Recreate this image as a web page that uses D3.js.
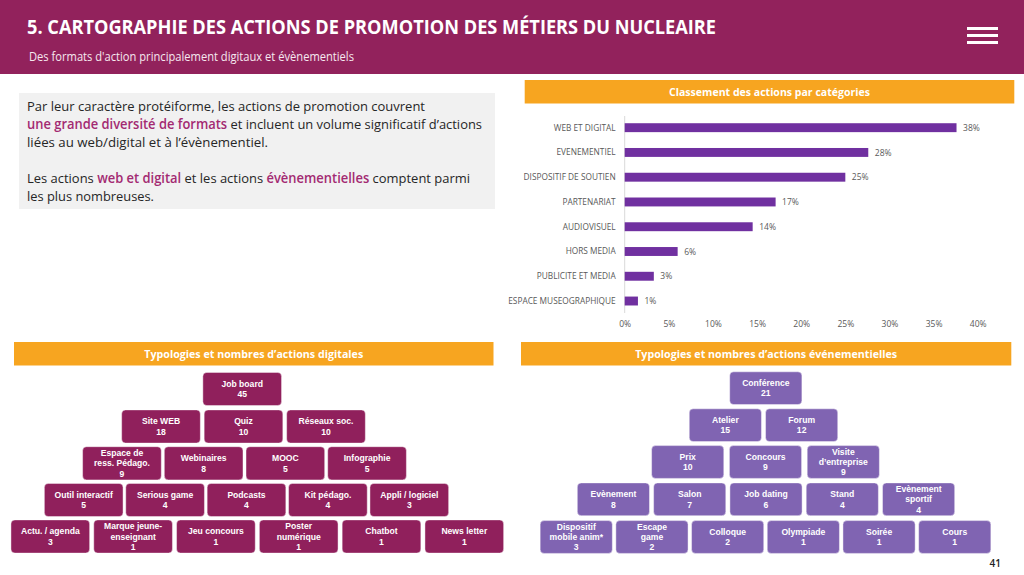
<!DOCTYPE html>
<html lang="fr"><head><meta charset="utf-8">
<script src="https://cdn.jsdelivr.net/npm/d3@7"></script>
<style>html,body{margin:0;padding:0;background:#fff}svg{display:block}text{font-family:"Open Sans",sans-serif}</style>
</head><body><svg id="c" width="1024" height="575"></svg>
<script>
// ---- data ----
const categories = ["WEB ET DIGITAL","EVENEMENTIEL","DISPOSITIF DE SOUTIEN","PARTENARIAT","AUDIOVISUEL","HORS MEDIA","PUBLICITE ET MEDIA","ESPACE MUSEOGRAPHIQUE"];
const barLengths = [37.6,27.6,25,17.1,14.5,6,3.3,1.5];
const barLabels = ["38%","28%","25%","17%","14%","6%","3%","1%"];
const xTicks = [0,5,10,15,20,25,30,35,40];
const digitalRow1 = [[["Job board"],45]];
const digitalRow2 = [[["Site WEB"],18],[["Quiz"],10],[["Réseaux soc."],10]];
const digitalRow3 = [[["Espace de","ress. Pédago."],9],[["Webinaires"],8],[["MOOC"],5],[["Infographie"],5]];
const digitalRow4 = [[["Outil interactif"],5],[["Serious game"],4],[["Podcasts"],4],[["Kit pédago."],4],[["Appli / logiciel"],3]];
const digitalRow5 = [[["Actu. / agenda"],3],[["Marque jeune-","enseignant"],1],[["Jeu concours"],1],[["Poster","numérique"],1],[["Chatbot"],1],[["News letter"],1]];
const eventRow1 = [[["Conférence"],21]];
const eventRow2 = [[["Atelier"],15],[["Forum"],12]];
const eventRow3 = [[["Prix"],10],[["Concours"],9],[["Visite","d’entreprise"],9]];
const eventRow4 = [[["Evènement"],8],[["Salon"],7],[["Job dating"],6],[["Stand"],4],[["Evènement","sportif"],4]];
const eventRow5 = [[["Dispositif","mobile anim*"],3],[["Escape","game"],2],[["Colloque"],2],[["Olympiade"],1],[["Soirée"],1],[["Cours"],1]];

// ---- layout ----
const svg = d3.select("#c");
const PLUM="#92225c", ORANGE="#f7a520", BAR="#7030a0", VIOLET="#8064b2", DARK="#262626";
function fit(sel,w){return sel.attr("textLength",w).attr("lengthAdjust","spacingAndGlyphs");}

svg.append("rect").attr("width",1024).attr("height",74).attr("fill",PLUM);
fit(svg.append("text").attr("x",27).attr("y",34).attr("font-size",19).attr("font-weight",700).attr("fill","#fff")
  .text("5. CARTOGRAPHIE DES ACTIONS DE PROMOTION DES MÉTIERS DU NUCLEAIRE"),689);
fit(svg.append("text").attr("x",29).attr("y",61).attr("font-size",12).attr("fill","#f6e9f0")
  .text("Des formats d'action principalement digitaux et évènementiels"),325);
svg.selectAll("rect.menu").data([0,1,2]).join("rect").attr("class","menu")
  .attr("x",967).attr("width",31).attr("height",3).attr("y",d=>27+d*7).attr("fill","#fff");

// text panel
svg.append("rect").attr("x",19).attr("y",93).attr("width",476).attr("height",116).attr("fill","#f1f1f1");
const para=[
 {y:111,w:398,runs:[["Par leur caractère protéiforme, les actions de promotion couvrent",0]]},
 {y:129,w:455,runs:[["une grande diversité de formats",1],[" et incluent un volume significatif d’actions",0]]},
 {y:147,w:241,runs:[["liées au web/digital et à l’évènementiel.",0]]},
 {y:183,w:443,runs:[["Les actions ",0],["web et digital",1],[" et les actions ",0],["évènementielles",1],[" comptent parmi",0]]},
 {y:201,w:127,runs:[["les plus nombreuses.",0]]}];
para.forEach(p=>{
  const t=svg.append("text").attr("x",27).attr("y",p.y).attr("font-size",13.5).attr("fill",DARK).attr("xml:space","preserve");
  p.runs.forEach(r=>t.append("tspan").attr("font-weight",r[1]?600:400).attr("fill",r[1]?"#a32a72":DARK).text(r[0]));
  fit(t,p.w);
});

// banners
[[524.7,80,489.6,"Classement des actions par catégories",201],[14,342,479.5,"Typologies et nombres d’actions digitales",219],[521,342,490.3,"Typologies et nombres d’actions événementielles",262]]
.forEach(b=>{
  svg.append("rect").attr("x",b[0]).attr("y",b[1]).attr("width",b[2]).attr("height",23.5).attr("fill",ORANGE);
  fit(svg.append("text").attr("x",b[0]+b[2]/2).attr("y",b[1]+16).attr("text-anchor","middle").attr("font-size",11).attr("font-weight",700).attr("fill","#fff").text(b[3]),b[4]);
});

// bar chart
const x=d3.scaleLinear().domain([0,40]).range([624.7,977.7]);
const y=d3.scaleBand().domain(categories).range([115.3,313.4]).paddingInner(0.64).paddingOuter(0.32);
svg.append("line").attr("x1",x(0)).attr("x2",x(0)).attr("y1",116).attr("y2",313).attr("stroke","#d9d9d9");
svg.append("g").selectAll("rect").data(categories).join("rect")
  .attr("x",x(0)).attr("y",d=>y(d)).attr("height",y.bandwidth())
  .attr("width",(d,i)=>x(barLengths[i])-x(0)).attr("fill",BAR);
svg.append("g").selectAll("text").data(categories).join("text")
  .attr("x",x(0)-9).attr("y",d=>y(d)+y.bandwidth()/2+3).attr("text-anchor","end").attr("font-size",8.3).attr("fill","#595959").text(d=>d);
svg.append("g").selectAll("text").data(categories).join("text")
  .attr("x",(d,i)=>x(barLengths[i])+6.5).attr("y",d=>y(d)+y.bandwidth()/2+3.2).attr("font-size",8.5).attr("fill","#595959").text((d,i)=>barLabels[i]);
const ax=svg.append("g").attr("transform","translate(0,313)")
  .call(d3.axisBottom(x).tickValues(xTicks).tickSize(0).tickPadding(8).tickFormat(d=>d+"%"));
ax.select(".domain").remove();
ax.selectAll("text").attr("font-size",8.5).attr("fill","#595959").style("font-family",'"Open Sans",sans-serif');

// pyramids
function pyramid(rows,fill,w,h,geom){
  rows.forEach((row,r)=>{
    const g=geom[r], n=row.length;
    const px=d3.scaleLinear().domain([0,n-1||1]).range([g.cx-(n-1)*g.pitch/2,g.cx+(n-1)*g.pitch/2]);
    const cell=svg.append("g").selectAll("g").data(row).join("g")
      .attr("transform",(d,i)=>`translate(${n>1?px(i):g.cx},${g.cy})`);
    cell.append("rect").attr("x",-w/2).attr("y",-h/2).attr("width",w).attr("height",h).attr("rx",4)
      .attr("fill",fill).attr("stroke","#fff").attr("stroke-opacity",.55).attr("stroke-width",.8);
    cell.each(function(d){
      const lines=[...d[0],String(d[1])], lh=10.3, sel=d3.select(this);
      const top=-(lines.length-1)*lh/2+3.1;
      sel.selectAll("text").data(lines).join("text").attr("y",(l,i)=>top+i*lh).attr("text-anchor","middle")
        .attr("font-size",8.6).attr("font-weight",700).attr("fill","#fff")
        .style("font-family",'"Liberation Sans",Arial,sans-serif').text(l=>l);
    });
  });
}
pyramid([digitalRow1,digitalRow2,digitalRow3,digitalRow4,digitalRow5],"#90205c",78.7,33.2,[
 {cx:242.2,cy:389,pitch:82},{cx:243.5,cy:426.5,pitch:82.5},{cx:244.5,cy:463.3,pitch:81.7},{cx:246.5,cy:500,pitch:81.4},{cx:257.3,cy:536.5,pitch:82.8}]);
pyramid([eventRow1,eventRow2,eventRow3,eventRow4,eventRow5],VIOLET,72.2,32.8,[
 {cx:765.8,cy:388.2,pitch:76},{cx:763.5,cy:425.2,pitch:76.3},{cx:765.5,cy:462,pitch:77.8},{cx:766,cy:499.3,pitch:76.3},{cx:765.5,cy:537,pitch:75.7}]);

svg.append("text").attr("x",1001).attr("y",567).attr("text-anchor","end").attr("font-size",10).attr("font-weight",600).attr("fill","#222").text("41");
</script></body></html>
